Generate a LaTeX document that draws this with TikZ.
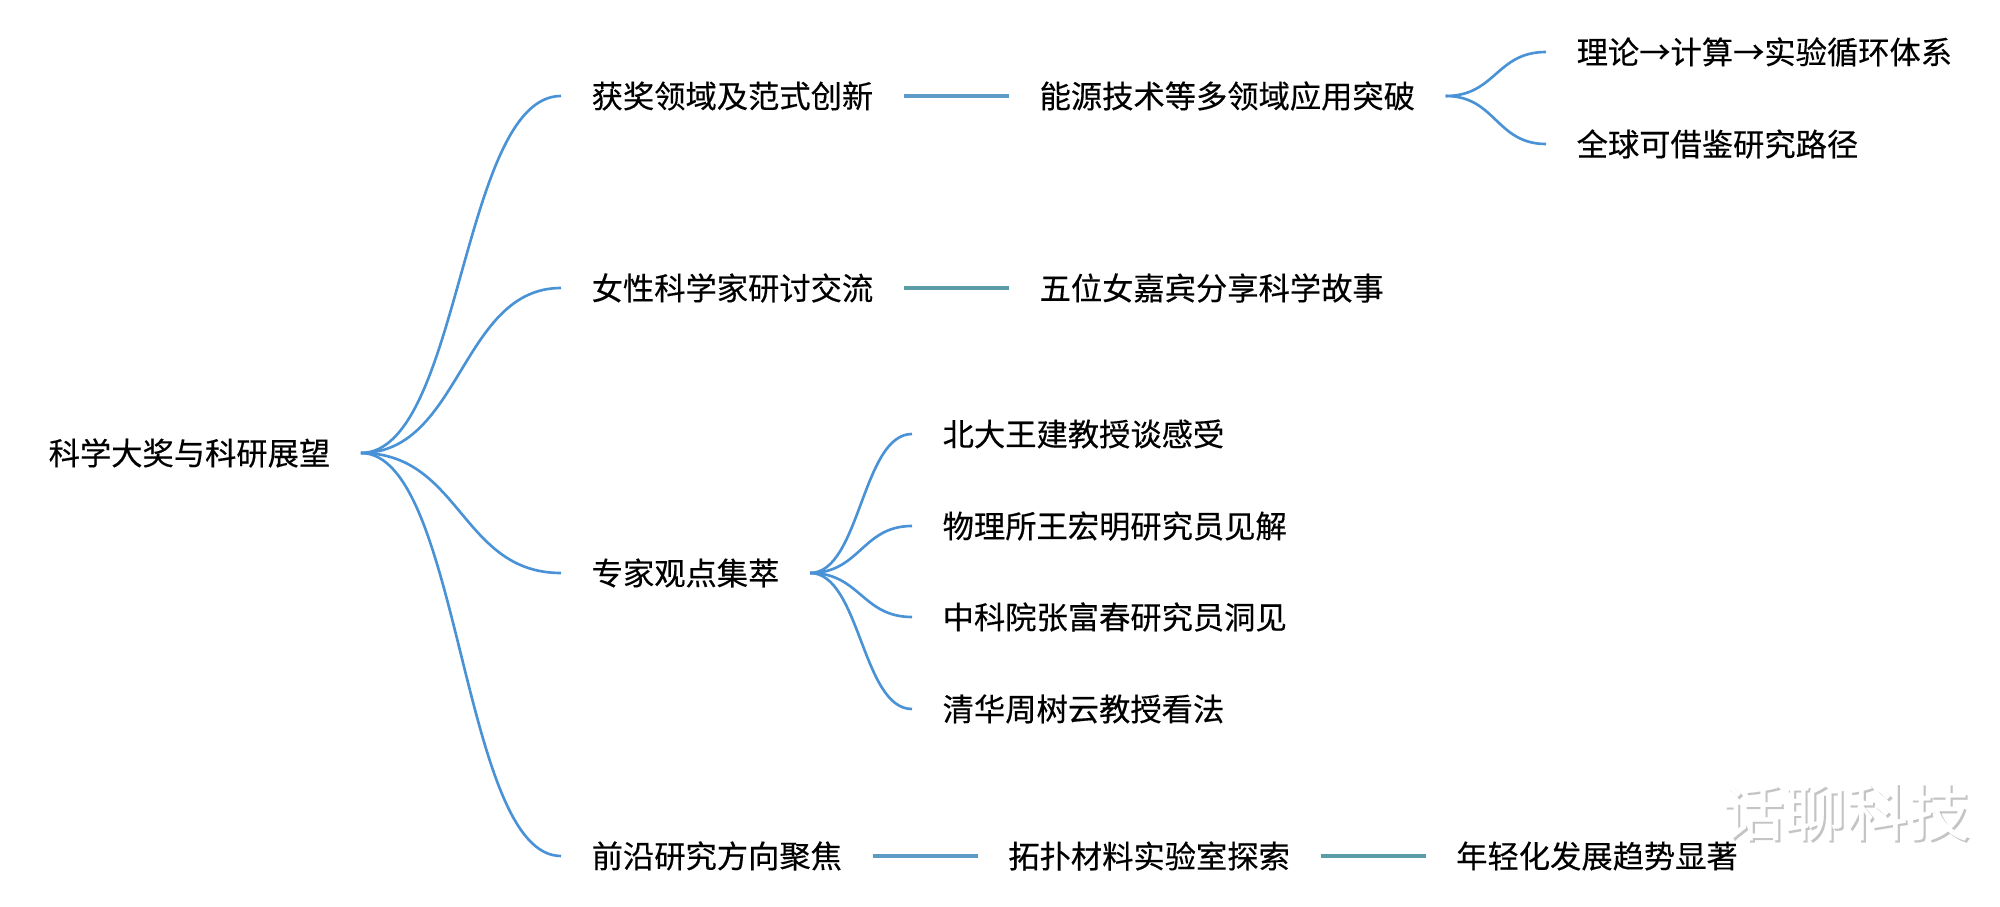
\documentclass[tikz,border=0pt]{standalone}
\usepackage{fontspec}
\usepackage{tikz}
\usetikzlibrary{positioning}
\newfontfamily\cjk[FakeBold=0.35]{Noto Sans CJK SC}
\definecolor{mapblue}{HTML}{4A92D6}
\definecolor{linkblue}{HTML}{5B9BC6}
\definecolor{linkteal}{HTML}{5A9CA8}
\definecolor{markgray}{HTML}{C4C4C4}

\begin{document}
\begin{tikzpicture}[
    topic/.style={anchor=west,inner xsep=0.3cm,inner ysep=1pt,font=\cjk\fontsize{8.9}{10}\selectfont},
    branch/.style={draw=mapblue,line width=0.75pt},
    link/.style={line width=0.9pt}]
  \useasboundingbox (0,0) rectangle (20,9.06);
  % root and first level
  \node[topic] (root) at (0.18,4.53) {科学大奖与科研展望};
  \foreach \n/\y/\t in {award/8.10/获奖领域及范式创新,women/6.18/女性科学家研讨交流,expert/3.33/专家观点集萃,front/0.50/前沿研究方向聚焦}
    \node[topic] (\n) at (5.61,\y) {\t};
  % chains to the right
  \node[topic,right=1.05cm of award] (energy) {能源技术等多领域应用突破};
  \node[topic,right=1.05cm of women] (story) {五位女嘉宾分享科学故事};
  \node[topic,right=1.05cm of front] (topo) {拓扑材料实验室探索};
  \node[topic,right=1.05cm of topo] (young) {年轻化发展趋势显著};
  % leaves
  \foreach \n/\y/\t in {theory/8.54/理论→计算→实验循环体系,globalpath/7.62/全球可借鉴研究路径}
    \node[topic] (\n) at (15.46,\y) {\t};
  \foreach \n/\y/\t in {peking/4.72/北大王建教授谈感受,physics/3.80/物理所王宏明研究员见解,cas/2.89/中科院张富春研究员洞见,tsinghua/1.97/清华周树云教授看法}
    \node[topic] (\n) at (9.12,\y) {\t};
  % connectors
  \foreach \n in {award,women,expert,front}
    \draw[branch] (root.east) .. controls +(1,0) and +(-1,0) .. (\n.west);
  \foreach \n in {peking,physics,cas,tsinghua}
    \draw[branch] (expert.east) .. controls +(0.5,0) and +(-0.5,0) .. (\n.west);
  \foreach \n in {theory,globalpath}
    \draw[branch] (energy.east) .. controls +(0.5,0) and +(-0.5,0) .. (\n.west);
  \draw[link,linkblue] (award) -- (energy);
  \draw[link,linkteal] (women) -- (story);
  \draw[link,linkblue] (front) -- (topo);
  \draw[link,linkteal] (topo) -- (young);
  % watermark
  \node[font=\cjk\fontsize{17.6}{20}\selectfont,inner sep=0pt] (mark) at (18.46,0.93)
    {\rlap{\color{markgray}\raisebox{-0.6pt}{\kern0.6pt 话聊科技}}\color{white}话聊科技};
\end{tikzpicture}
\end{document}
